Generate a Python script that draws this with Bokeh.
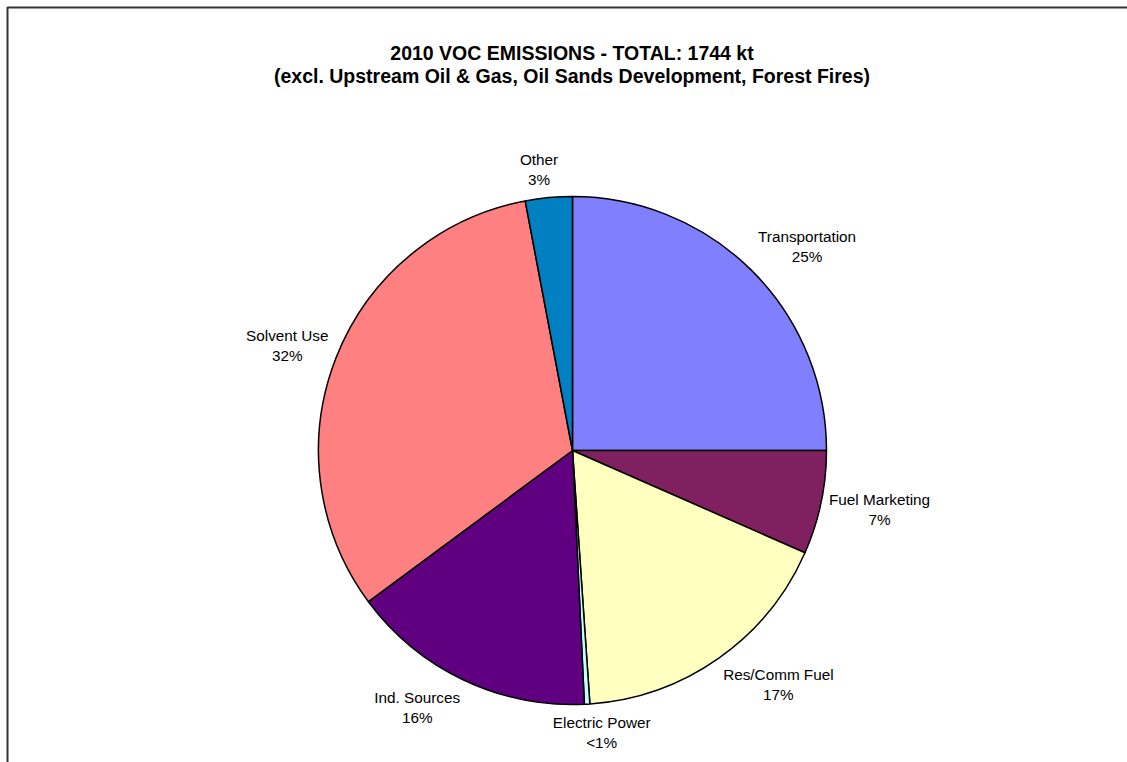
import math
from bokeh.plotting import figure
from bokeh.models import Range1d, ColumnDataSource
from bokeh.core.properties import value
from bokeh.embed import file_html
from bokeh.resources import INLINE

# ---- data (kt, 2010 VOC emissions) ----
categories = ["Transportation", "Fuel Marketing", "Res/Comm Fuel", "Electric Power",
              "Ind. Sources", "Solvent Use", "Other"]
emissions_kt = [436, 115, 302, 6, 272, 561, 52]
colors = ["#8080FF", "#802060", "#FFFFC0", "#C0FFFF", "#600080", "#FF8080", "#0080C0"]
title_lines = ["2010 VOC EMISSIONS - TOTAL: 1744 kt",
               "(excl. Upstream Oil & Gas, Oil Sands Development, Forest Fires)"]

W, H = 1127, 762
CX, CY_PIX, R = 572, 450, 254
CY = H - CY_PIX
FONT = "Liberation Sans"
LABEL_PX = 15.3

# Arial / Liberation Sans advance widths (1/1000 em) for measuring label text
_AW = {" ": 278, ".": 278, "/": 278, "<": 584, "%": 889, "A": 667, "C": 722, "E": 667,
       "F": 611, "I": 278, "M": 833, "O": 778, "P": 667, "R": 722, "S": 667, "T": 611,
       "U": 722, "a": 556, "c": 500, "d": 556, "e": 556, "g": 556, "h": 556, "i": 222,
       "k": 500, "l": 222, "m": 833, "n": 556, "o": 556, "p": 556, "r": 333, "s": 500,
       "t": 278, "u": 556, "v": 500, "w": 722, "y": 500}

def text_w(s):
    return sum(_AW.get(ch, 556) for ch in s) / 1000 * LABEL_PX

total = sum(emissions_kt)
fracs = [v / total for v in emissions_kt]

starts, ends, mids, a0 = [], [], [], 0.0
for f in fracs:
    a1 = a0 + f * 2 * math.pi
    starts.append(math.pi / 2 - a0)
    ends.append(math.pi / 2 - a1)
    mids.append((a0 + a1) / 2)
    a0 = a1

def pct_label(f):
    p = f * 100
    return "<1%" if p < 1 else f"{round(p):d}%"

pcts = [pct_label(f) for f in fracs]

p = figure(width=W, height=H, x_range=Range1d(0, W), y_range=Range1d(0, H),
           output_backend="svg", toolbar_location=None, min_border=0)
p.axis.visible = False
p.grid.visible = False
p.outline_line_color = None
p.background_fill_color = "white"
p.border_fill_color = "white"

# chart frame (left and top edges visible)
p.line(x=[7, 7, W + 10], y=[-10, H - 7, H - 7], line_color="#333333", line_width=2)

src = ColumnDataSource(dict(start=starts, end=ends, color=colors, cat=categories))
p.wedge(x=CX, y=CY, radius=R, start_angle="start", end_angle="end", direction="clock",
        fill_color="color", line_color="black", line_width=1.5, source=src)

# labels placed outside, anchored at the slice's mid angle
def clamp(v):
    return max(-1.0, min(1.0, v))

lx, ly = [], []
GAP = 8
for cat, pc, m in zip(categories, pcts, mids):
    dx, dy = math.sin(m), math.cos(m)   # dy is "up" in data space
    w = max(text_w(cat), text_w(pc))
    h = 40
    px = CX + (R + GAP) * dx
    py = CY + (R + GAP) * dy
    lx.append(px + w / 2 * clamp(5.0 * dx))
    ly.append(py + h / 2 * clamp(1.3 * dy))

p.text(x=lx, y=[y + 10 for y in ly], text=categories, text_align="center",
       text_baseline="middle", text_font=value(FONT), text_font_size=f"{LABEL_PX}px",
       text_color="black")
p.text(x=lx, y=[y - 10 for y in ly], text=pcts, text_align="center",
       text_baseline="middle", text_font=value(FONT), text_font_size=f"{LABEL_PX}px",
       text_color="black")

# title
p.text(x=[W / 2 + 8, W / 2 + 8], y=[H - 52, H - 75], text=title_lines, text_align="center",
       text_baseline="middle", text_font=value(FONT), text_font_style="bold",
       text_font_size="19.5px", text_color="black")

open("out.html", "w").write(file_html(p, INLINE))
